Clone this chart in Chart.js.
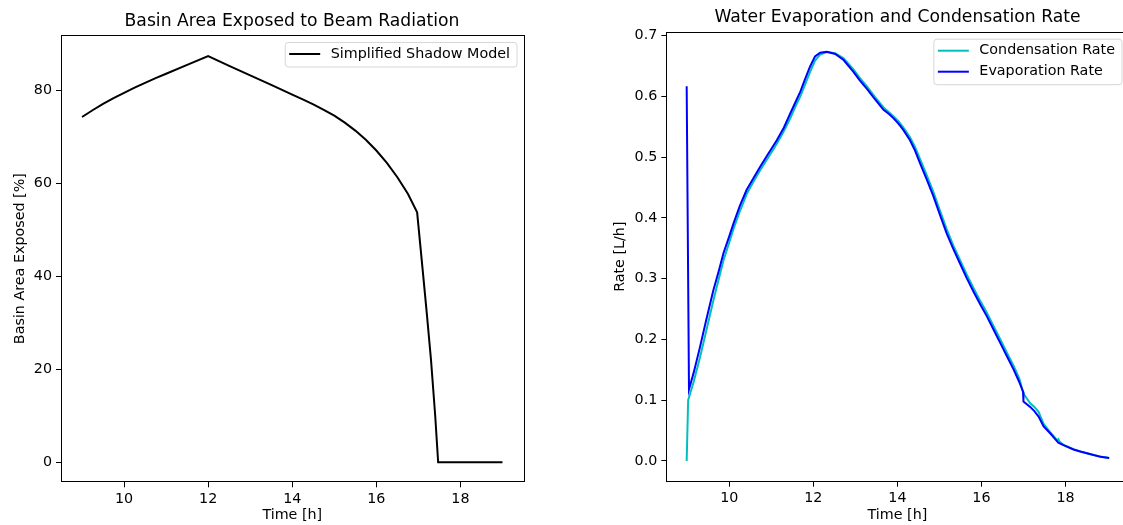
<!DOCTYPE html>
<html>
<head>
<meta charset="utf-8">
<script src="https://cdn.jsdelivr.net/npm/chart.js@4"></script>
<style>
  html, body { margin: 0; padding: 0; background: #fff; overflow: hidden; }
  body { width: 1123px; height: 525px; position: relative; }
  canvas { position: absolute; top: 0; }
  #shadeChart { left: 0; }
  #rateChart { left: 560px; }
</style>
</head>
<body>
<canvas id="shadeChart" width="584" height="525"></canvas>
<canvas id="rateChart" width="675" height="525"></canvas>
<script>
// Left panel: basin area exposed to beam radiation
const shadeTime = [9, 9.25, 9.5, 9.75, 10, 10.25, 10.5, 10.75, 11, 11.5, 12, 12.5, 13, 13.5, 14, 14.25, 14.5, 14.75, 15, 15.25, 15.5, 15.75, 16, 16.25, 16.5, 16.75, 16.97, 17.1, 17.2, 17.3, 17.4, 17.47, 18, 18.5, 19];
const shadeArea = [74.2, 75.65, 77.0, 78.25, 79.4, 80.5, 81.55, 82.55, 83.5, 85.4, 87.3, 85.2, 83.15, 81.1, 79.0, 77.98, 76.9, 75.75, 74.5, 73.0, 71.28, 69.3, 67.0, 64.35, 61.25, 57.7, 53.7, 41.5, 32.0, 22.0, 10.0, 0, 0, 0, 0];

// Right panel: evaporation and condensation rate
const condTime = [8.985, 9.02, 9.15, 9.3, 9.45, 9.62, 9.75, 9.86, 10.0, 10.1, 10.25, 10.41, 10.57, 10.73, 10.93, 11.13, 11.3, 11.45, 11.57, 11.69, 11.8, 11.92, 12.04, 12.16, 12.32, 12.52, 12.72, 12.95, 13.1, 13.27, 13.47, 13.67, 13.8, 13.91, 14.03, 14.14, 14.3, 14.42, 14.54, 14.7, 14.86, 15.02, 15.17, 15.33, 15.49, 15.65, 15.81, 15.97, 16.13, 16.29, 16.45, 16.61, 16.77, 16.9, 17.0, 17.16, 17.26, 17.36, 17.48, 17.63, 17.73, 17.8, 17.83, 17.87, 17.95, 18.19, 18.35, 18.51, 18.67, 18.83, 19.04];
const condRate = [0.0, 0.100, 0.130, 0.170, 0.214, 0.264, 0.300, 0.330, 0.360, 0.382, 0.411, 0.439, 0.459, 0.478, 0.500, 0.522, 0.543, 0.564, 0.583, 0.600, 0.619, 0.640, 0.659, 0.669, 0.673, 0.671, 0.663, 0.645, 0.631, 0.617, 0.599, 0.582, 0.574, 0.567, 0.559, 0.549, 0.533, 0.517, 0.497, 0.470, 0.442, 0.411, 0.382, 0.355, 0.331, 0.307, 0.285, 0.264, 0.244, 0.222, 0.200, 0.178, 0.156, 0.136, 0.111, 0.095, 0.089, 0.081, 0.061, 0.048, 0.040, 0.034, 0.036, 0.031, 0.027, 0.0195, 0.0158, 0.0127, 0.0098, 0.0072, 0.005];

const evapTime = [8.985, 9.04, 9.15, 9.3, 9.45, 9.62, 9.75, 9.86, 10.0, 10.1, 10.25, 10.41, 10.57, 10.73, 10.93, 11.13, 11.3, 11.45, 11.57, 11.69, 11.8, 11.92, 12.04, 12.16, 12.32, 12.52, 12.72, 12.95, 13.1, 13.27, 13.47, 13.67, 13.8, 13.91, 14.03, 14.14, 14.3, 14.42, 14.54, 14.7, 14.86, 15.02, 15.17, 15.33, 15.49, 15.65, 15.81, 15.97, 16.13, 16.29, 16.45, 16.61, 16.77, 16.9, 16.99, 17.0, 17.16, 17.26, 17.36, 17.48, 17.63, 17.73, 17.83, 17.95, 18.19, 18.35, 18.51, 18.67, 18.83, 19.04];
const evapRate = [0.617, 0.118, 0.145, 0.187, 0.232, 0.281, 0.313, 0.342, 0.370, 0.391, 0.420, 0.446, 0.465, 0.484, 0.506, 0.528, 0.549, 0.572, 0.590, 0.608, 0.628, 0.649, 0.666, 0.672, 0.6735, 0.670, 0.660, 0.641, 0.627, 0.613, 0.595, 0.578, 0.571, 0.564, 0.555, 0.545, 0.528, 0.511, 0.490, 0.463, 0.435, 0.404, 0.375, 0.349, 0.325, 0.301, 0.279, 0.258, 0.238, 0.216, 0.194, 0.172, 0.150, 0.130, 0.114, 0.098, 0.089, 0.082, 0.073, 0.057, 0.046, 0.038, 0.030, 0.026, 0.019, 0.0157, 0.0126, 0.0097, 0.0071, 0.005];

const timeTicks = [10, 12, 14, 16, 18];
const areaTicks = [0, 20, 40, 60, 80];
const rateTicks = [0, 0.1, 0.2, 0.3, 0.4, 0.5, 0.6, 0.7];

const FONT = '"DejaVu Sans", "Liberation Sans", sans-serif';
const TEXT_SIZE = 14.3;
Chart.defaults.font.family = FONT;
Chart.defaults.color = '#000';

function points(xs, ys) {
  return xs.map((x, i) => ({ x: x, y: ys[i] }));
}

// full matplotlib-like box around the plot area
const frame = {
  id: 'frame',
  afterDatasetsDraw(chart) {
    const { ctx, chartArea: a } = chart;
    const l = Math.round(a.left) + 0.5, t = Math.round(a.top) + 0.5;
    const r = Math.round(a.right) + 0.5, b = Math.round(a.bottom) - 0.5;
    ctx.save();
    ctx.strokeStyle = '#000';
    ctx.lineWidth = 1;
    ctx.strokeRect(l, t, r - l, b - t);
    ctx.restore();
  }
};

// legend box in the upper right corner of the plot area
const boxLegend = {
  id: 'boxLegend',
  afterDraw(chart) {
    const { ctx, chartArea: a } = chart;
    const sets = chart.data.datasets;
    ctx.save();
    ctx.font = TEXT_SIZE + 'px ' + FONT;
    const textW = Math.max(...sets.map(d => ctx.measureText(d.label).width));
    const w = 4 + 31 + 10.5 + textW + 7;
    const h = 24.5 + (sets.length - 1) * 21;
    const x = a.right - 6.5 - w;
    const y = a.top + 7.5;
    const rad = 3;
    ctx.beginPath();
    ctx.moveTo(x + rad, y);
    ctx.lineTo(x + w - rad, y);
    ctx.arcTo(x + w, y, x + w, y + rad, rad);
    ctx.lineTo(x + w, y + h - rad);
    ctx.arcTo(x + w, y + h, x + w - rad, y + h, rad);
    ctx.lineTo(x + rad, y + h);
    ctx.arcTo(x, y + h, x, y + h - rad, rad);
    ctx.lineTo(x, y + rad);
    ctx.arcTo(x, y, x + rad, y, rad);
    ctx.closePath();
    ctx.fillStyle = 'rgba(255,255,255,0.8)';
    ctx.fill();
    ctx.strokeStyle = '#d6d6d6';
    ctx.lineWidth = 1;
    ctx.stroke();
    sets.forEach((d, i) => {
      const cy = y + 11.5 + i * 21;
      ctx.beginPath();
      ctx.moveTo(x + 4, cy);
      ctx.lineTo(x + 35, cy);
      ctx.strokeStyle = d.borderColor;
      ctx.lineWidth = 2;
      ctx.stroke();
      ctx.fillStyle = '#000';
      ctx.textBaseline = 'middle';
      ctx.textAlign = 'left';
      ctx.fillText(d.label, x + 45.5, cy);
    });
    ctx.restore();
  }
};

function tickGrid() {
  return { display: true, drawOnChartArea: false, drawTicks: true, tickLength: 5, tickColor: '#000', tickWidth: 1 };
}

function timeAxis(height) {
  return {
    type: 'linear',
    min: 8.5,
    max: 19.5,
    afterBuildTicks: s => { s.ticks = timeTicks.map(v => ({ value: v })); },
    afterFit: s => { s.height = height; },
    grid: tickGrid(),
    border: { display: false },
    ticks: { color: '#000', font: { size: TEXT_SIZE }, padding: 3, maxRotation: 0, autoSkip: false },
    title: { display: true, text: 'Time [h]', color: '#000', font: { size: TEXT_SIZE }, padding: { top: 0, bottom: 1.4 } }
  };
}

function valueAxis(opts) {
  return {
    type: 'linear',
    position: 'left',
    min: opts.min,
    max: opts.max,
    afterBuildTicks: s => { s.ticks = opts.ticks.map(v => ({ value: v })); },
    afterFit: s => { s.width = opts.width; },
    grid: tickGrid(),
    border: { display: false },
    ticks: { color: '#000', font: { size: TEXT_SIZE }, padding: 4, autoSkip: false, callback: opts.format },
    title: { display: true, text: opts.title, color: '#000', font: { size: TEXT_SIZE }, padding: { top: opts.titlePad, bottom: 0 } }
  };
}

// empty right-hand axis, only used to keep the plot area where it belongs
function spacer(width) {
  return {
    type: 'linear',
    position: 'right',
    display: true,
    afterFit: s => { s.width = width; },
    ticks: { display: false },
    grid: { display: false },
    border: { display: false }
  };
}

function titleOpts(text, padTop, padBottom) {
  return {
    display: true,
    text: text,
    color: '#000',
    font: { size: 17.2, weight: 'normal', lineHeight: 1.2 },
    padding: { top: padTop, bottom: padBottom }
  };
}

new Chart(document.getElementById('shadeChart'), {
  type: 'line',
  data: {
    datasets: [{
      label: 'Simplified Shadow Model',
      data: points(shadeTime, shadeArea),
      borderColor: '#000000',
      borderWidth: 2,
      pointRadius: 0,
      tension: 0,
      fill: false
    }]
  },
  options: {
    responsive: false,
    animation: false,
    devicePixelRatio: 1,
    layout: { padding: 0 },
    scales: {
      x: timeAxis(42.7),
      y: valueAxis({ min: -4.3, max: 91.82, ticks: areaTicks, width: 61, title: 'Basin Area Exposed [%]', titlePad: 11.4, format: v => String(v) }),
      pad: spacer(60.5)
    },
    plugins: {
      legend: { display: false },
      tooltip: { enabled: false },
      title: titleOpts('Basin Area Exposed to Beam Radiation', 11.18, 3.18)
    }
  },
  plugins: [frame, boxLegend]
});

new Chart(document.getElementById('rateChart'), {
  type: 'line',
  data: {
    datasets: [
      {
        label: 'Condensation Rate',
        data: points(condTime, condRate),
        borderColor: '#00bfbf',
        borderWidth: 2,
        pointRadius: 0,
        tension: 0,
        fill: false,
        order: 1
      },
      {
        label: 'Evaporation Rate',
        data: points(evapTime, evapRate),
        borderColor: '#0000ff',
        borderWidth: 2,
        pointRadius: 0,
        tension: 0,
        fill: false,
        order: 0
      }
    ]
  },
  options: {
    responsive: false,
    animation: false,
    devicePixelRatio: 1,
    layout: { padding: 0 },
    scales: {
      x: timeAxis(43.3),
      y: valueAxis({ min: -0.0341, max: 0.7066, ticks: rateTicks, width: 106.3, title: 'Rate [L/h]', titlePad: 51.4, format: v => v.toFixed(1) }),
      pad: spacer(106.5)
    },
    plugins: {
      legend: { display: false },
      tooltip: { enabled: false },
      title: titleOpts('Water Evaporation and Condensation Rate', 7.18, 3.88)
    }
  },
  plugins: [frame, boxLegend]
});
</script>
</body>
</html>
